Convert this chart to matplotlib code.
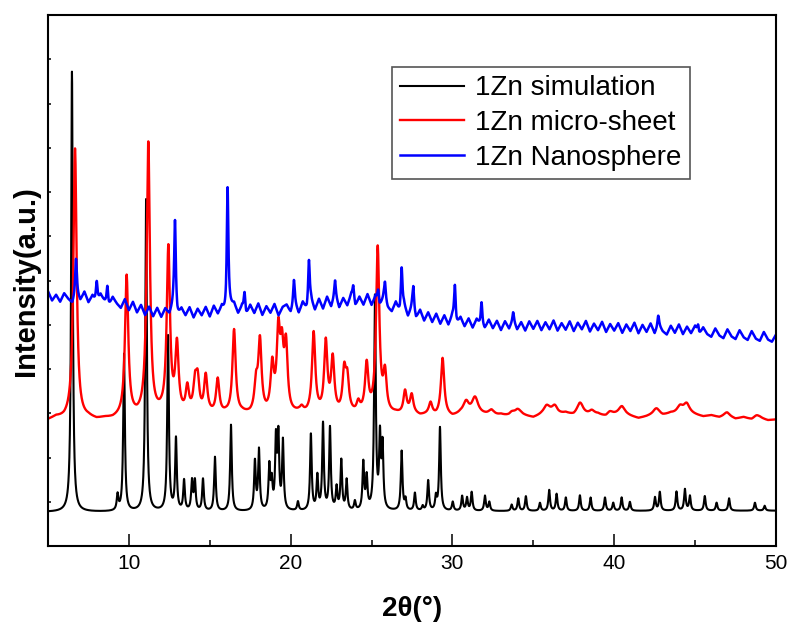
import numpy as np
import matplotlib
matplotlib.use("Agg")
import matplotlib.pyplot as plt
from matplotlib.ticker import MultipleLocator, NullFormatter

plt.rcParams['font.family'] = ['Liberation Sans', 'DejaVu Sans']

# 2-theta grid the patterns are rendered on
two_theta = np.linspace(5, 50, 4501)

# --- 1Zn simulation: flat baseline + reflections (position, height) ---
sim_base_x = [5.0, 50.0]
sim_base_y = [0.77, 0.80]
sim_pos = [6.48, 9.30, 9.70, 11.06, 12.42, 12.91, 13.41, 13.90, 14.08, 14.58,
           15.32, 16.31, 17.79, 18.04, 18.68, 18.83, 19.09, 19.24, 19.52, 20.45,
           21.25, 21.65, 22.00, 22.43, 22.84, 23.13, 23.46, 23.97, 24.49, 24.70,
           25.21, 25.52, 25.68, 26.86, 27.10, 27.68, 28.16, 28.50, 28.98, 29.23,
           30.02, 30.60, 30.90, 31.19, 32.01, 32.28, 33.66, 34.07, 34.54, 35.41,
           35.98, 36.44, 37.01, 37.88, 38.54, 39.43, 39.94, 40.46, 40.97, 42.52,
           42.82, 43.85, 44.37, 44.68, 45.60, 46.33, 47.10, 48.70, 49.30]
sim_height = [9.95, 0.35, 3.55, 7.05, 3.95, 1.62, 0.68, 0.66, 0.66, 0.72,
              1.22, 1.95, 1.10, 1.36, 0.98, 0.60, 1.55, 1.62, 1.55, 0.20,
              1.72, 0.76, 1.95, 1.86, 0.50, 1.12, 0.68, 0.20, 1.06, 0.72,
              4.80, 1.58, 1.40, 1.34, 0.24, 0.40, 0.10, 0.68, 0.30, 1.88,
              0.20, 0.33, 0.29, 0.42, 0.34, 0.20, 0.14, 0.28, 0.33, 0.18,
              0.47, 0.38, 0.30, 0.35, 0.30, 0.30, 0.18, 0.30, 0.20, 0.30,
              0.42, 0.43, 0.48, 0.33, 0.33, 0.18, 0.28, 0.18, 0.11]
sim_fwhm = 0.12

# --- 1Zn micro-sheet: measured background + reflections ---
sheet_base_x = np.arange(5.0, 50.01, 0.5)
sheet_base_y = [2.84, 2.90, 2.86, 2.89, 2.85, 2.88, 2.84, 2.87, 2.86, 2.90,
                2.92, 2.89, 2.93, 2.90, 2.94, 2.91, 2.95, 2.92, 2.96, 2.93,
                2.95, 2.92, 2.96, 2.93, 2.97, 2.94, 2.96, 2.93, 2.97, 2.95,
                2.94, 2.98, 2.95, 2.97, 2.93, 2.96, 2.94, 2.98, 2.95, 2.97,
                2.96, 2.99, 2.95, 2.97, 2.94, 2.98, 2.93, 2.96, 2.92, 2.95,
                2.90, 2.96, 2.92, 2.97, 2.94, 2.90, 2.95, 2.91, 2.97, 2.93,
                2.89, 2.95, 2.98, 2.94, 2.99, 2.93, 2.97, 2.92, 2.96, 2.90,
                2.95, 2.99, 2.93, 2.88, 2.92, 2.97, 2.94, 2.99, 2.96, 3.00,
                2.96, 2.92, 2.95, 2.90, 2.93, 2.87, 2.91, 2.85, 2.89, 2.84,
                2.86]
sheet_pos = [6.67, 9.86, 11.20, 12.44, 12.97, 13.61, 14.09, 14.25, 14.75, 15.49,
             16.50, 17.86, 18.10, 18.86, 19.24, 19.46, 19.71, 20.68, 21.42, 22.17,
             22.60, 23.31, 23.50, 24.18, 24.70, 25.38, 25.83, 27.07, 27.48, 28.65,
             29.39]
sheet_height = [6.10, 3.15, 6.15, 3.75, 1.50, 0.58, 0.62, 0.70, 0.85, 0.80,
                1.92, 0.62, 1.60, 1.02, 1.70, 1.25, 1.45, 0.10, 1.80, 1.60,
                1.20, 0.90, 0.70, 0.22, 1.08, 3.70, 0.85, 0.52, 0.40, 0.26,
                1.28]
sheet_fwhm = 0.24
sheet_hump_pos = [30.85, 31.39, 32.42, 33.66, 34.07, 35.82, 36.33, 37.88, 38.60, 39.73,
                  40.46, 42.62, 44.06, 44.47, 46.95, 48.80]
sheet_hump_height = [0.30, 0.36, 0.15, 0.08, 0.10, 0.18, 0.20, 0.26, 0.12, 0.10,
                     0.16, 0.14, 0.18, 0.20, 0.09, 0.08]
sheet_hump_fwhm = 0.45

# --- 1Zn Nanosphere: noisy background + weak reflections ---
sphere_base_x = np.arange(5.0, 50.01, 0.25)
sphere_base_y = [5.76, 5.55, 5.68, 5.52, 5.71, 5.58, 5.47, 5.69, 5.54, 5.74,
                 5.50, 5.65, 5.45, 5.67, 5.52, 5.40, 5.62, 5.48, 5.38, 5.58,
                 5.33, 5.52, 5.28, 5.45, 5.22, 5.41, 5.19, 5.38, 5.17, 5.36,
                 5.22, 5.40, 5.15, 5.35, 5.20, 5.39, 5.16, 5.36, 5.21, 5.40,
                 5.18, 5.42, 5.23, 5.39, 5.17, 5.37, 5.46, 5.24, 5.41, 5.20,
                 5.44, 5.26, 5.48, 5.22, 5.42, 5.27, 5.47, 5.21, 5.40, 5.45,
                 5.26, 5.46, 5.25, 5.50, 5.30, 5.54, 5.32, 5.58, 5.36, 5.63,
                 5.40, 5.66, 5.38, 5.60, 5.43, 5.68, 5.41, 5.63, 5.45, 5.69,
                 5.44, 5.64, 5.40, 5.60, 5.37, 5.29, 5.50, 5.24, 5.43, 5.17,
                 5.38, 5.13, 5.33, 5.09, 5.28, 5.06, 5.25, 5.02, 5.21, 4.99,
                 5.19, 4.98, 5.16, 4.96, 5.14, 4.93, 5.12, 4.95, 4.90, 5.11,
                 4.92, 5.09, 4.88, 5.08, 4.91, 5.10, 4.89, 5.06, 4.87, 5.08,
                 4.91, 5.09, 4.88, 5.06, 4.90, 5.10, 4.87, 5.04, 4.89, 5.08,
                 4.86, 5.05, 4.90, 5.09, 4.85, 5.03, 4.88, 5.07, 4.84, 5.02,
                 4.87, 5.04, 4.82, 5.01, 4.86, 5.05, 4.81, 5.00, 4.84, 5.03,
                 4.80, 4.99, 4.85, 4.78, 4.98, 4.82, 5.01, 4.79, 4.96, 4.81,
                 4.97, 4.77, 4.94, 4.79, 4.73, 4.92, 4.76, 4.70, 4.90, 4.74,
                 4.68, 4.88, 4.72, 4.66, 4.86, 4.69, 4.64, 4.84, 4.67, 4.62,
                 4.78]
sphere_pos = [6.73, 8.01, 8.67, 12.85, 16.10, 17.15, 20.20, 21.13, 22.74, 23.87,
              25.41, 25.83, 26.86, 27.58, 30.15, 31.80, 33.76, 42.72, 45.19]
sphere_height = [0.82, 0.53, 0.44, 2.07, 2.86, 0.45, 0.59, 1.04, 0.35, 0.34,
                 0.30, 0.44, 0.97, 0.57, 0.84, 0.57, 0.19, 0.24, 0.19]
sphere_fwhm = 0.12

labels = ['1Zn simulation', '1Zn micro-sheet', '1Zn Nanosphere']
colors = ['black', '#ff0000', '#0000ff']
widths = [1.5, 1.7, 1.8]


def lorentz_sum(x, pos, height, fwhm):
    y = np.zeros_like(x)
    half = fwhm / 2.0
    for c, h in zip(pos, height):
        y += h / (1.0 + ((x - c) / half) ** 2)
    return y


sim = np.interp(two_theta, sim_base_x, sim_base_y) + \
    lorentz_sum(two_theta, sim_pos, sim_height, sim_fwhm)
sheet = np.interp(two_theta, sheet_base_x, sheet_base_y) + \
    lorentz_sum(two_theta, sheet_pos, sheet_height, sheet_fwhm) + \
    lorentz_sum(two_theta, sheet_hump_pos, sheet_hump_height, sheet_hump_fwhm)
sphere = np.interp(two_theta, sphere_base_x, sphere_base_y) + \
    lorentz_sum(two_theta, sphere_pos, sphere_height, sphere_fwhm)

fig = plt.figure(figsize=(7.91, 6.35), dpi=100)
ax = fig.add_axes([0.0607, 0.140, 0.9203, 0.836])

for y, c, lw, lab in zip([sim, sheet, sphere], colors, widths, labels):
    ax.plot(two_theta, y, color=c, lw=lw, label=lab)

ax.set_xlim(5, 50)
ax.set_ylim(0, 12)
ax.xaxis.set_major_locator(MultipleLocator(10))
ax.xaxis.set_minor_locator(MultipleLocator(5))
ax.yaxis.set_major_locator(MultipleLocator(1))
ax.yaxis.set_major_formatter(NullFormatter())
ax.tick_params(axis='x', which='major', direction='in', length=8.5, width=1.1,
               labelsize=15, pad=6)
ax.tick_params(axis='x', which='minor', direction='in', length=4.5, width=1.1)
ax.tick_params(axis='y', which='major', direction='in', length=2.2, width=1.1)
for sp in ax.spines.values():
    sp.set_linewidth(1.5)

ax.set_xlabel('2θ(°)', fontsize=20, fontweight='bold', labelpad=16)
ax.set_ylabel('Intensity(a.u.)', fontsize=21, fontweight='bold', labelpad=2)

leg = ax.legend(loc='upper left', bbox_to_anchor=(0.4725, 0.9026),
                borderaxespad=0, fontsize=20, handlelength=2.3,
                handletextpad=0.4, labelspacing=0.32, borderpad=0.3,
                fancybox=False, framealpha=1)
leg.get_frame().set_edgecolor('#555555')
leg.get_frame().set_linewidth(1.2)

fig.savefig('out.png', dpi=100)
